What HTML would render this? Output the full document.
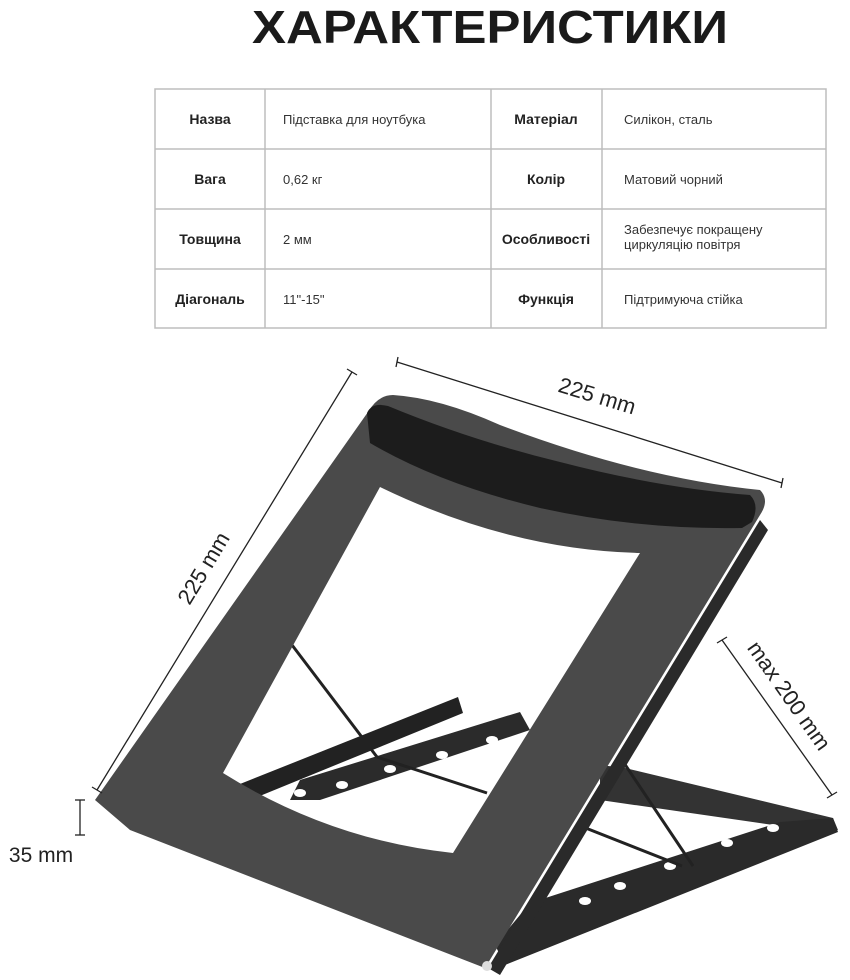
<!DOCTYPE html>
<html><head><meta charset="utf-8"><style>
html,body{margin:0;padding:0;background:#fff;}
svg{display:block;}
</style></head><body>
<svg width="850" height="980" viewBox="0 0 850 980" xmlns="http://www.w3.org/2000/svg" font-family="'Liberation Sans', 'Noto Sans CJK SC', sans-serif">
<text x="490" y="43" text-anchor="middle" font-size="46" font-weight="bold" fill="#1a1a1a" textLength="476" lengthAdjust="spacingAndGlyphs">ХАРАКТЕРИСТИКИ</text>
<g stroke="#bdbdbd" stroke-width="1.5" fill="none">
<rect x="155" y="89" width="671" height="239"/>
<line x1="155" y1="149" x2="826" y2="149"/><line x1="155" y1="209" x2="826" y2="209"/><line x1="155" y1="269" x2="826" y2="269"/>
<line x1="265" y1="89" x2="265" y2="328"/><line x1="491" y1="89" x2="491" y2="328"/><line x1="602" y1="89" x2="602" y2="328"/>
</g>
<g font-size="14" font-weight="bold" fill="#222" text-anchor="middle">
<text x="210" y="124">Назва</text><text x="210" y="184">Вага</text><text x="210" y="244">Товщина</text><text x="210" y="304">Діагональ</text>
<text x="546" y="124">Матеріал</text><text x="546" y="184">Колір</text><text x="546" y="244">Особливості</text><text x="546" y="304">Функція</text>
</g>
<g font-size="13" fill="#333">
<text x="283" y="124">Підставка для ноутбука</text><text x="283" y="184">0,62 кг</text><text x="283" y="244">2 мм</text><text x="283" y="304">11"-15"</text>
<text x="624" y="124">Силікон, сталь</text><text x="624" y="184">Матовий чорний</text><text x="624" y="234">Забезпечує покращену</text><text x="624" y="249">циркуляцію повітря</text><text x="624" y="304">Підтримуюча стійка</text>
</g>
<!-- base back -->
<polygon points="290,800 300,780 500,718 520,712 530,730 320,800" fill="#2b2b2b"/>
<polygon points="225,790 458,697 463,713 245,802" fill="#222"/>
<g fill="#fff">
<ellipse cx="300" cy="793" rx="6" ry="4"/><ellipse cx="342" cy="785" rx="6" ry="4"/><ellipse cx="390" cy="769" rx="6" ry="4"/><ellipse cx="442" cy="755" rx="6" ry="4"/><ellipse cx="492" cy="740" rx="6" ry="4"/>
</g>
<!-- base right -->
<polygon points="600,765 625,768 833,818 838,830 780,826 600,800" fill="#333"/>
<polygon points="833,818 838,832 505,965 495,945 530,903 780,822" fill="#2a2a2a"/>
<g fill="#fff">
<ellipse cx="773" cy="828" rx="6" ry="4"/><ellipse cx="727" cy="843" rx="6" ry="4"/><ellipse cx="670" cy="866" rx="6" ry="4"/><ellipse cx="620" cy="886" rx="6" ry="4"/><ellipse cx="585" cy="901" rx="6" ry="4"/>
</g>
<g stroke="#222" stroke-width="3">
<line x1="292" y1="645" x2="377" y2="757"/><line x1="377" y1="757" x2="487" y2="793"/>
<line x1="622" y1="760" x2="693" y2="866"/><line x1="578" y1="825" x2="682" y2="866"/>
</g>
<!-- panel side -->
<polygon points="760,520 768,530 500,975 488,968" fill="#2a2a2a"/>
<!-- panel -->
<path d="M393,395 Q378,395 368,412 L95,800 L130,830 L485,968 L760,515 Q770,500 760,490 Q640,478 500,425 Q440,398 393,395 Z M380,487 Q510,550 640,553 L453,853 Q330,840 223,773 Z" fill="#4a4a4a" fill-rule="evenodd"/>
<path d="M367,413 Q372,402 388,406 Q470,440 560,462 Q660,488 750,495 Q760,505 752,522 L742,528 Q640,530 540,508 Q440,484 370,443 Z" fill="#1c1c1c"/>
<circle cx="487" cy="966" r="5" fill="#ddd"/>
<!-- dimensions -->
<g stroke="#222" stroke-width="1.3">
<line x1="352" y1="372" x2="97" y2="790"/><line x1="347" y1="369" x2="357" y2="375"/><line x1="92" y1="787" x2="102" y2="793"/>
<line x1="397" y1="362" x2="782" y2="483"/><line x1="398" y1="357" x2="396" y2="367"/><line x1="783" y1="478" x2="781" y2="488"/>
<line x1="722" y1="640" x2="832" y2="795"/><line x1="717" y1="643" x2="727" y2="637"/><line x1="827" y1="798" x2="837" y2="792"/>
<line x1="80" y1="800" x2="80" y2="835"/><line x1="75" y1="800" x2="85" y2="800"/><line x1="75" y1="835" x2="85" y2="835"/>
</g>
<g font-size="22" fill="#222" text-anchor="middle">
<text transform="translate(595,403) rotate(17)">225 mm</text>
<text transform="translate(210,572) rotate(-59)">225 mm</text>
<text transform="translate(783,700) rotate(55)">max 200 mm</text>
<text x="41" y="862" font-size="21">35 mm</text>
</g>
</svg>
</body></html>
